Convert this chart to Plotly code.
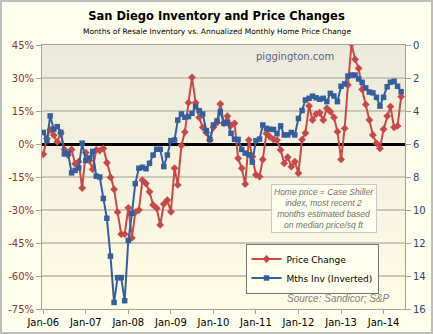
import plotly.graph_objects as go
import pandas as pd

months = pd.date_range("2006-01-01", periods=102, freq="MS")

price_change = [
    -4.7, 2.5, 6.5, 4.0, 1.0, 5.0, -2.5, -5.0, -2.5, -9.0, -8.0, -20.0,
    -3.9, -7.6, -11.5, -2.7, -3.0, -2.0, -8.5, -15.2, -20.6, -31.0, -41.0, -41.0,
    -29.0, -42.7, -31.0, -30.0, -16.4, -18.0, -21.7, -27.7, -29.2, -36.8, -27.3, -25.5,
    -30.8, -11.0, -18.6, -0.7, 5.4, 18.8, 30.3, 18.8, 12.0, 7.6, 5.2, 1.8,
    7.6, 9.7, 18.2, 9.4, 12.7, 8.4, 9.4, -6.5, -11.0, -18.2, 1.8, -5.8,
    -14.0, -14.8, -7.0, 4.8, 3.3, 2.1, 1.8, -2.7, -8.8, -6.0, -10.3, -8.0,
    -13.3, 2.0, 5.0, 17.3, 10.9, 13.6, 14.2, 10.9, 16.2, 14.7, 12.1, 5.6,
    -7.0, 7.1, 26.8, 45.5, 38.5, 34.4, 24.8, 18.0, 10.9, 4.1, 0.3, -2.0,
    6.7, 12.7, 17.0, 7.6, 8.2, 21.5,
]

months_inventory = [
    5.3, 5.8, 4.3, 5.1, 4.95, 5.3, 6.6, 6.55, 7.75, 7.6, 7.45, 5.95,
    7.0, 6.85, 6.45, 7.95, 8.0, 9.3, 10.5, 12.8, 15.6, 14.1, 14.1, 15.5,
    11.85, 10.2, 8.4, 7.47, 7.41, 7.5, 7.17, 6.67, 6.32, 6.32, 7.37, 6.67,
    5.8, 5.76, 4.55, 4.18, 4.38, 4.34, 4.14, 3.74, 3.98, 4.18, 5.19, 5.72,
    4.85, 4.6, 4.04, 4.75, 4.7, 5.35, 5.72, 5.72, 6.33, 6.55, 6.65, 7.1,
    5.8, 5.7, 4.85, 5.05, 5.1, 5.12, 5.38, 4.9, 5.45, 5.45, 5.3, 5.45,
    4.45, 3.97, 3.33, 3.23, 3.1, 3.2, 3.29, 3.23, 3.43, 2.93, 3.09, 3.43,
    2.5, 2.36, 1.88, 1.82, 1.82, 2.06, 2.26, 2.6, 2.85, 2.9, 3.17, 3.7,
    3.17, 2.53, 2.26, 2.2, 2.5, 2.83,
]

pct_ticks = [45, 30, 15, 0, -15, -30, -45, -60, -75]
inv_ticks = [0, 2, 4, 6, 8, 10, 12, 14, 16]

W, H = 433, 334
ML, MR, MT, MB = 42, 28, 45, 25
PW, PH = W - ML - MR, H - MT - MB

RED = "#C84848"
BLUE = "#335F9E"
FONT = "DejaVu Sans"

fig = go.Figure()
fig.add_trace(go.Scatter(
    x=months, y=price_change, name="Price Change", mode="lines+markers",
    line=dict(color=RED, width=2), marker=dict(symbol="diamond", size=6, color=RED),
    yaxis="y",
))
fig.add_trace(go.Scatter(
    x=months, y=months_inventory, name="Mths Inv (Inverted)", mode="lines+markers",
    line=dict(color=BLUE, width=2), marker=dict(symbol="square", size=5.5, color=BLUE),
    yaxis="y2",
))

# gradient plot background
shapes = []
N = 30
top = (236, 234, 218)
bot = (255, 252, 228)
for i in range(N):
    t = i / (N - 1)
    c = tuple(int(round(top[k] + (bot[k] - top[k]) * t)) for k in range(3))
    shapes.append(dict(type="rect", xref="x domain", yref="y domain",
                       x0=0, x1=1, y0=1 - (i + 1) / N, y1=1 - i / N + 0.001,
                       fillcolor="rgb(%d,%d,%d)" % c, line=dict(width=0), layer="below"))
# outer frame
shapes.append(dict(type="rect", xref="paper", yref="paper",
                   x0=-ML / PW, x1=(W - ML) / PW, y0=-MB / PH, y1=(H - MB) / PH,
                   line=dict(color="#BDBDBD", width=4), fillcolor="rgba(0,0,0,0)", layer="above"))

fig.update_layout(
    width=W, height=H,
    margin=dict(l=ML, r=MR, t=MT, b=MB, autoexpand=False),
    paper_bgcolor="#FFFFEE",
    plot_bgcolor="rgba(0,0,0,0)",
    font=dict(family=FONT, size=10, color="#000000"),
    title=dict(text="<b>San Diego Inventory and Price Changes</b>",
               x=0.5, xanchor="center", y=1 - 16 / H, yanchor="middle",
               font=dict(family=FONT, size=11.5, color="#000000")),
    showlegend=True,
    legend=dict(x=(312 - ML) / PW, y=(309 - 268.5) / PH, xanchor="center", yanchor="middle",
                bgcolor="#FFFFEE", bordercolor="#777777", borderwidth=1,
                font=dict(family=FONT, size=9, color="#000000"),
                tracegroupgap=0, itemwidth=30),
    xaxis=dict(
        range=["2005-12-21", "2014-07-04"], type="date", automargin=False,
        tick0="2006-01-01", dtick="M12", tickformat="%b-%y",
        showgrid=False, showline=True, linecolor="#A0A0A0", linewidth=1, mirror=True,
        ticks="outside", ticklen=4, tickcolor="#A0A0A0",
        tickfont=dict(family=FONT, size=10, color="#000000"),
    ),
    yaxis=dict(
        range=[-75, 45], tickvals=pct_ticks, ticktext=[f"{v}%" for v in pct_ticks],
        automargin=False,
        showgrid=True, gridcolor="#CBC7B4", gridwidth=2,
        zeroline=True, zerolinecolor="#000000", zerolinewidth=2.5,
        showline=True, linecolor="#A0A0A0", linewidth=1,
        ticks="outside", ticklen=5, tickcolor="#A0A0A0",
        tickfont=dict(family=FONT, size=10, color="#8B3333"),
    ),
    yaxis2=dict(
        range=[16, 0], tickvals=inv_ticks, overlaying="y", side="right",
        automargin=False,
        showgrid=False, zeroline=False,
        showline=True, linecolor="#A0A0A0", linewidth=1,
        ticks="outside", ticklen=5, tickcolor="#A0A0A0",
        tickfont=dict(family=FONT, size=10, color="#2E4470"),
    ),
    shapes=shapes,
    annotations=[
        dict(text="Months of Resale Inventory vs. Annualized Monthly Home Price Change",
             xref="paper", yref="paper", x=(216.5 - ML) / PW, y=(309 - 32) / PH,
             xanchor="center", yanchor="middle", showarrow=False,
             font=dict(family=FONT, size=7.5, color="#000000")),
        dict(text="piggington.com", xref="paper", yref="paper",
             x=(295 - ML) / PW, y=(309 - 57) / PH, xanchor="center", yanchor="middle",
             showarrow=False, font=dict(family=FONT, size=10, color="#5B5F8F")),
        dict(text="<i>Home price = Case Shiller<br>index, most recent 2<br>months estimated based<br>on median price/sq ft</i>",
             xref="paper", yref="paper", x=(324 - ML) / PW, y=(309 - 208.5) / PH,
             xanchor="center", yanchor="middle", showarrow=False, align="center",
             bgcolor="#FFFFEE", bordercolor="#C8C8C8", borderwidth=1, borderpad=2,
             font=dict(family="Liberation Sans", size=8.5, color="#707070")),
        dict(text="<i>Source: Sandicor; S&P</i>", xref="paper", yref="paper",
             x=(392 - ML) / PW, y=(309 - 298) / PH, xanchor="right", yanchor="middle",
             showarrow=False, font=dict(family="Liberation Sans", size=10, color="#808080")),
    ],
)

fig.write_html("out.html")
